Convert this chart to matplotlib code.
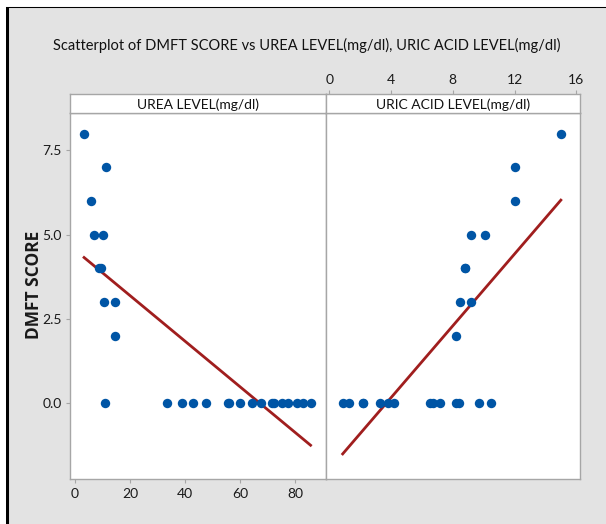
import numpy as np
import matplotlib
matplotlib.use('Agg')
import matplotlib.pyplot as plt
from matplotlib.lines import Line2D

# DMFT score vs urea / uric acid readings
dmft = [8, 7, 6, 5, 5, 4, 4, 3, 3, 2,
        0, 0, 0, 0, 0, 0, 0, 0, 0, 0, 0, 0, 0, 0, 0, 0, 0]
urea = [3.3, 11.3, 5.9, 7.0, 10.1, 8.8, 9.3, 10.4, 14.7, 14.7,
        10.9, 33.6, 38.9, 42.8, 47.6, 55.8, 56.2, 59.9, 64.4, 67.8,
        71.6, 72.5, 75.3, 77.6, 80.6, 83.0, 85.7]

dmft_uric = [8, 7, 6, 5, 5, 4, 4, 3, 3, 2,
             0, 0, 0, 0, 0, 0, 0, 0, 0, 0, 0, 0, 0, 0]
uric = [15.0, 12.0, 12.0, 9.2, 10.1, 8.8, 8.8, 8.5, 9.2, 8.2,
        0.87, 1.3, 2.2, 2.2, 3.3, 3.8, 4.2, 6.5, 6.75, 7.2, 8.2, 8.4, 9.7, 10.5]

urea_ticks = [0, 20, 40, 60, 80]
uric_ticks = [0, 4, 8, 12, 16]
y_ticks = [0.0, 2.5, 5.0, 7.5]

BG = '#e3e3e3'
EDGE = '#a6a6a6'
DOT = '#0055a5'
FIT = '#a01e1e'
FONT = ['Lato', 'DejaVu Sans']

W, H = 606, 524
fig = plt.figure(figsize=(W / 100, H / 100), dpi=100, facecolor=BG)


def box(x0, y0, x1, y1):
    # pixel box (top-left origin) -> figure fraction rect
    return [x0 / W, 1 - y1 / H, (x1 - x0) / W, (y1 - y0) / H]


def style(ax):
    for s in ax.spines.values():
        s.set_color(EDGE)
        s.set_linewidth(1.0)
    ax.tick_params(length=3, width=0.8, color=EDGE, labelcolor='#1a1a1a',
                   labelsize=10, pad=3)
    for lab in ax.get_xticklabels() + ax.get_yticklabels():
        lab.set_family(FONT)


def panel(x0, x1, xs, ys, xlim, title):
    ax = fig.add_axes(box(x0, 113.3, x1, 479.3))
    ax.set_facecolor('white')
    ax.scatter(xs, ys, s=46, color=DOT, zorder=3, linewidths=0)
    b, a = np.polyfit(xs, ys, 1)
    xx = np.array([min(xs), max(xs)])
    ax.plot(xx, a + b * xx, color=FIT, lw=2, zorder=2)
    ax.set_xlim(*xlim)
    ax.set_ylim(-2.26, 8.6)
    st = fig.add_axes(box(x0, 94, x1, 113.3), sharex=ax)
    st.set_facecolor('white')
    st.set_yticks([])
    st.text(0.5, 0.45, title, transform=st.transAxes, ha='center', va='center',
            fontsize=10, family=FONT, color='#111111')
    return ax, st


ax1, st1 = panel(70, 325.7, urea, dmft, (-1.82, 91.2), 'UREA LEVEL(mg/dl)')
ax2, st2 = panel(325.7, 580, uric, dmft_uric, (-0.23, 16.24), 'URIC ACID LEVEL(mg/dl)')

ax1.set_xticks(urea_ticks)
ax1.set_yticks(y_ticks)
ax1.set_yticklabels(['%.1f' % v for v in y_ticks])
st1.tick_params(axis='x', bottom=False, labelbottom=False)

ax2.set_yticks([])
ax2.tick_params(axis='x', bottom=False, labelbottom=False)
st2.set_xticks(uric_ticks)
st2.tick_params(axis='x', bottom=False, labelbottom=False, top=True, labeltop=True)

for ax in (ax1, st1, ax2, st2):
    style(ax)

fig.text(0.507, 1 - 45 / H,
         'Scatterplot of DMFT SCORE vs UREA LEVEL(mg/dl), URIC ACID LEVEL(mg/dl)',
         ha='center', va='center', fontsize=10.5, family=FONT, color='#111111')
fig.text(34 / W, 1 - 285 / H, 'DMFT SCORE', rotation=90, ha='center', va='center',
         fontsize=12.5, fontweight='bold', family=['Open Sans', 'DejaVu Sans'],
         color='#1a1a1a')

# cropped outer frame: only top and left edges are visible
fig.add_artist(Line2D([7 / W, 7 / W], [0, 1 - 6 / H], color='black', lw=2.2))
fig.add_artist(Line2D([7 / W, 1], [1 - 6 / H, 1 - 6 / H], color='black', lw=2.2))
fig.add_artist(Line2D([0, 1], [1 - 2.5 / H, 1 - 2.5 / H], color='white', lw=5))
fig.add_artist(Line2D([2.5 / W, 2.5 / W], [0, 1], color='white', lw=5))

fig.savefig('out.png', dpi=100, facecolor=BG)
